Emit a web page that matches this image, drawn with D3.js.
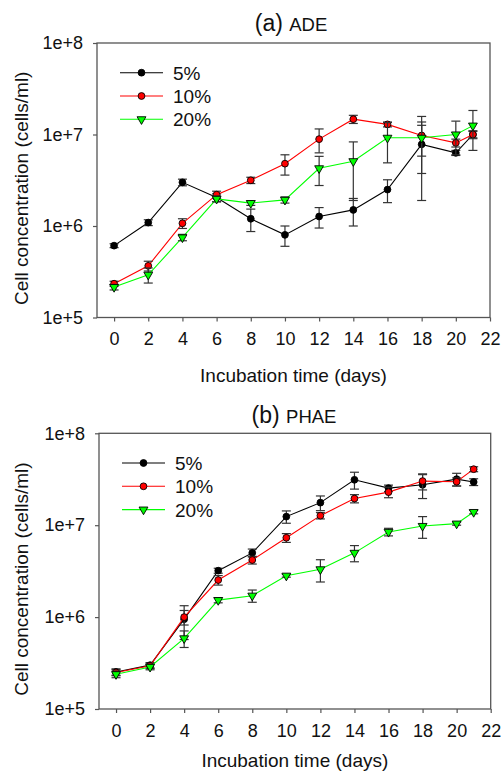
<!DOCTYPE html>
<html>
<head>
<meta charset="utf-8">
<script src="https://cdn.jsdelivr.net/npm/d3@7"></script>
<style>
  body { margin: 0; background: #fff; }
  svg { font-family: "Liberation Sans", Arial, sans-serif; }
</style>
</head>
<body>
<div id="chart"></div>
<script>
// sampling days
var days = [0, 2, 4, 6, 8, 10, 12, 14, 16, 18, 20, 21];
var seriesNames = ["5%", "10%", "20%"];
var xTicks = [0, 2, 4, 6, 8, 10, 12, 14, 16, 18, 20, 22];
var yTicks = [1e5, 1e6, 1e7, 1e8];

// (a) ADE - cells/ml and standard deviation
var ade5 = [6.1e5, 1.09e6, 3.0e6, 2.05e6, 1.2e6, 8.0e5, 1.27e6, 1.5e6, 2.5e6, 7.8e6, 6.3e6, 1.0e7];
var ade5sd = [3e4, 8e4, 2.5e5, 2e5, 3.3e5, 2e5, 3.2e5, 5e5, 7e5, 5.9e6, 4e5, 1e6];
var ade10 = [2.34e5, 3.67e5, 1.07e6, 2.2e6, 3.16e6, 4.8e6, 8.9e6, 1.47e7, 1.29e7, 9.75e6, 8.1e6, 1.0e7];
var ade10sd = [1.5e4, 4.5e4, 1.3e5, 2e5, 2.5e5, 1.2e6, 2.6e6, 1.5e6, 8e5, 6e6, 8e5, 8e5];
var ade20 = [2.15e5, 2.93e5, 7.5e5, 1.98e6, 1.78e6, 1.93e6, 4.27e6, 5.1e6, 9.2e6, 9.2e6, 1.0e7, 1.25e7];
var ade20sd = [1.5e4, 5.5e4, 6e4, 1.5e5, 1e5, 1.5e5, 1.5e6, 3.2e6, 4.3e6, 3.4e6, 4e6, 5.8e6];

// (b) PHAE
var phae5 = [2.53e5, 3.0e5, 9.5e5, 3.2e6, 5.0e6, 1.24e7, 1.76e7, 3.12e7, 2.53e7, 2.75e7, 3.17e7, 2.95e7];
var phae5sd = [2e4, 2e4, 3.8e5, 2e5, 5e5, 1.9e6, 3.2e6, 6.5e6, 2e6, 8e6, 5e6, 2.5e6];
var phae10 = [2.5e5, 2.95e5, 1.0e6, 2.53e6, 4.18e6, 7.3e6, 1.27e7, 1.95e7, 2.29e7, 3.02e7, 2.97e7, 4.07e7];
var phae10sd = [2e4, 2e4, 1.8e5, 3e5, 4e5, 8e5, 1e6, 2e6, 3e6, 6e6, 3e6, 2.5e6];
var phae20 = [2.39e5, 2.87e5, 5.87e5, 1.53e6, 1.71e6, 2.82e6, 3.31e6, 5.0e6, 8.45e6, 9.8e6, 1.04e7, 1.39e7];
var phae20sd = [2e4, 2e4, 1.2e5, 1e5, 2.6e5, 1e5, 9e5, 1e6, 8e5, 2.6e6, 4e5, 6e5];

var colors = ["#000000", "#ff0000", "#00ff00"];
var axisColor = "#555";

var svg = d3.select("#chart")
    .append("svg")
    .attr("width", 502)
    .attr("height", 773);

function drawPanel(p) {
    var x = d3.scaleLinear().domain([-1, 22]).range([p.left, p.right]);
    var y = d3.scaleLog().domain([1e5, 1e8]).range([p.bottom, p.top]);
    var g = svg.append("g");

    // title: "(a)" larger than the name
    var title = g.append("text")
        .attr("x", p.titleX)
        .attr("y", p.titleY)
        .attr("text-anchor", "middle")
        .attr("fill", "#111");
    title.append("tspan").attr("font-size", "23px").text(p.label + " ");
    title.append("tspan").attr("font-size", "18.5px").text(p.name);

    // frame
    g.append("rect")
        .attr("x", p.left)
        .attr("y", p.top)
        .attr("width", p.right - p.left)
        .attr("height", p.bottom - p.top)
        .attr("fill", "none")
        .attr("stroke", axisColor)
        .attr("stroke-width", 1.3);

    var xAxis = d3.axisBottom(x).tickValues(xTicks).tickSize(4).tickPadding(11);
    var yAxis = d3.axisLeft(y).tickValues(yTicks).tickSize(4).tickPadding(10)
        .tickFormat(function (d) { return "1e+" + Math.round(Math.log10(d)); });

    var xg = g.append("g").attr("transform", "translate(0," + p.bottom + ")").call(xAxis);
    var yg = g.append("g").attr("transform", "translate(" + p.left + ",0)").call(yAxis);
    [xg, yg].forEach(function (a) {
        a.select(".domain").remove();
        a.selectAll("line").attr("stroke", axisColor).attr("stroke-width", 1.2);
        a.selectAll("text")
            .attr("font-size", "18px")
            .attr("font-family", "'Liberation Sans', Arial, sans-serif")
            .attr("fill", "#111");
    });

    g.append("text")
        .attr("x", (p.left + p.right) / 2)
        .attr("y", p.xTitleY)
        .attr("text-anchor", "middle")
        .attr("font-size", "19px")
        .attr("fill", "#111")
        .text("Incubation time (days)");

    g.append("text")
        .attr("transform", "translate(28," + ((p.top + p.bottom) / 2 + 8) + ") rotate(-90)")
        .attr("text-anchor", "middle")
        .attr("font-size", "19px")
        .attr("fill", "#111")
        .text("Cell concentration (cells/ml)");

    var line = d3.line()
        .x(function (d) { return x(d.day); })
        .y(function (d) { return y(d.v); });

    p.series.forEach(function (vals, si) {
        var sd = p.sds[si];
        var pts = days.map(function (d, i) { return {day: d, v: vals[i], sd: sd[i]}; });

        g.append("path")
            .datum(pts)
            .attr("d", line)
            .attr("fill", "none")
            .attr("stroke", colors[si])
            .attr("stroke-width", 1.1);

        // error bars
        var eb = g.append("g").attr("stroke", "#333").attr("stroke-width", 1.2);
        pts.forEach(function (d) {
            var hi = y(d.v + d.sd);
            var lo = y(Math.max(d.v - d.sd, 1e5));
            var cx = x(d.day);
            eb.append("line").attr("x1", cx).attr("x2", cx).attr("y1", hi).attr("y2", lo);
            eb.append("line").attr("x1", cx - 4.5).attr("x2", cx + 4.5).attr("y1", hi).attr("y2", hi);
            eb.append("line").attr("x1", cx - 4.5).attr("x2", cx + 4.5).attr("y1", lo).attr("y2", lo);
        });

        drawMarkers(g, pts.map(function (d) { return [x(d.day), y(d.v)]; }), si);
    });

    // legend
    seriesNames.forEach(function (name, si) {
        var ly = p.legendY + si * 23.3;
        g.append("line")
            .attr("x1", p.legendX).attr("x2", p.legendX + 43)
            .attr("y1", ly).attr("y2", ly)
            .attr("stroke", colors[si])
            .attr("stroke-width", 1.1);
        drawMarkers(g, [[p.legendX + 21.5, ly]], si);
        g.append("text")
            .attr("x", p.legendX + 53)
            .attr("y", ly + 7)
            .attr("font-size", "19px")
            .attr("fill", "#111")
            .text(name);
    });
}

function drawMarkers(g, xy, si) {
    if (si === 2) {
        var tri = d3.symbol().type(d3.symbolTriangle).size(34);
        g.selectAll(null)
            .data(xy)
            .enter()
            .append("path")
            .attr("d", tri)
            .attr("transform", function (d) { return "translate(" + d[0] + "," + d[1] + ") rotate(180)"; })
            .attr("fill", colors[2])
            .attr("stroke", "#000")
            .attr("stroke-width", 0.9);
    } else {
        g.selectAll(null)
            .data(xy)
            .enter()
            .append("circle")
            .attr("cx", function (d) { return d[0]; })
            .attr("cy", function (d) { return d[1]; })
            .attr("r", 3.4)
            .attr("fill", colors[si])
            .attr("stroke", "#000")
            .attr("stroke-width", 0.9);
    }
}

drawPanel({
    label: "(a)", name: "ADE",
    left: 97, right: 490, top: 43, bottom: 317.5,
    titleX: 291, titleY: 31, xTitleY: 382,
    legendX: 120, legendY: 72.7,
    series: [ade5, ade10, ade20], sds: [ade5sd, ade10sd, ade20sd]
});

drawPanel({
    label: "(b)", name: "PHAE",
    left: 99, right: 490.7, top: 433.3, bottom: 709,
    titleX: 294, titleY: 423, xTitleY: 767,
    legendX: 122, legendY: 463,
    series: [phae5, phae10, phae20], sds: [phae5sd, phae10sd, phae20sd]
});
</script>
</body>
</html>
